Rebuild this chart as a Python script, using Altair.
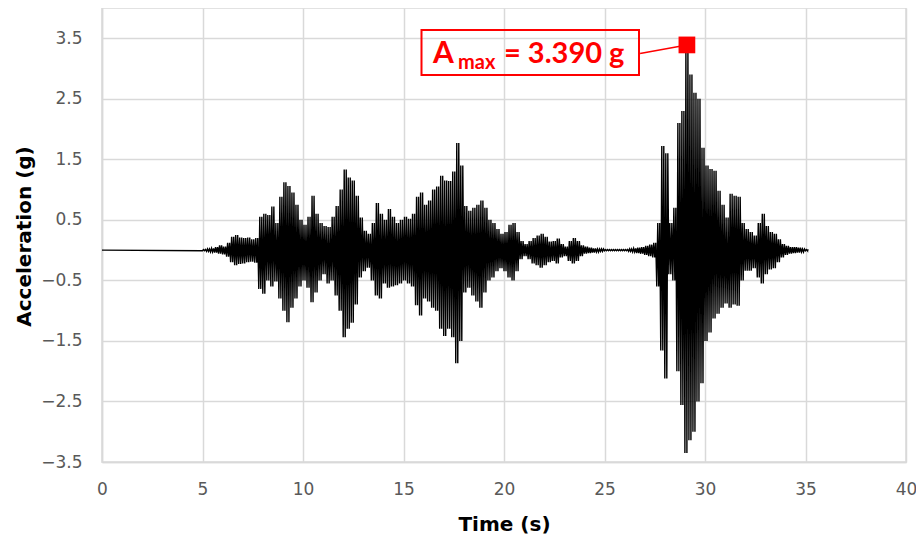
import altair as alt
import numpy as np
import pandas as pd

# Sampling grid (s) of the envelope readings, 0.2 s steps from 5 s to 35 s
t_start, t_step = 5.0, 0.2

# Upper extremes (g) per 0.2 s window
hi = [
    0.01, 0.02, 0.03, 0.05, 0.08,   # 5 s
    0.06, 0.12, 0.22, 0.25, 0.21,   # 6
    0.20, 0.21, 0.18, 0.20, 0.55,   # 7
    0.60, 0.58, 0.72, 0.45, 0.88,   # 8
    1.12, 1.06, 0.95, 0.75, 0.50,   # 9
    0.42, 0.55, 0.90, 0.60, 0.45,   # 10
    0.40, 0.38, 0.55, 0.73, 1.00,   # 11
    1.33, 1.20, 1.15, 0.90, 0.54,   # 12
    0.32, 0.27, 0.45, 0.78, 0.60,   # 13
    0.50, 0.68, 0.55, 0.45, 0.50,   # 14
    0.55, 0.52, 0.60, 0.88, 0.95,   # 15
    0.75, 0.82, 1.00, 1.05, 1.23,   # 16
    1.15, 1.14, 1.30, 1.77, 1.40,   # 17
    0.73, 0.65, 0.70, 0.75, 0.82,   # 18
    0.70, 0.50, 0.45, 0.35, 0.27,   # 19
    0.30, 0.42, 0.45, 0.30, 0.15,   # 20
    0.10, 0.15, 0.20, 0.24, 0.27,   # 21
    0.22, 0.14, 0.15, 0.19, 0.10,   # 22
    0.06, 0.15, 0.20, 0.15, 0.08,   # 23
    0.06, 0.04, 0.03, 0.02, 0.02,   # 24
    0.01, 0.01, 0.01, 0.01, 0.01,   # 25
    0.01, 0.02, 0.03, 0.04, 0.05,   # 26
    0.07, 0.09, 0.12, 0.45, 1.72,   # 27
    1.60, 0.45, 0.70, 2.10, 2.30,   # 28
    3.39, 2.90, 2.60, 2.50, 1.69,   # 29
    1.40, 1.34, 1.31, 0.98, 0.75,   # 30
    0.54, 0.93, 0.90, 0.88, 0.45,   # 31
    0.35, 0.30, 0.24, 0.45, 0.60,   # 32
    0.40, 0.30, 0.27, 0.18, 0.10,   # 33
    0.07, 0.05, 0.05, 0.04, 0.02,   # 34
    0.01,                           # 35
]

# Lower extremes (g) per 0.2 s window
lo = [
    -0.01, -0.02, -0.03, -0.04, -0.06,
    -0.07, -0.11, -0.20, -0.25, -0.23,
    -0.22, -0.20, -0.19, -0.21, -0.64,
    -0.72, -0.50, -0.60, -0.52, -0.80,
    -1.00, -1.19, -0.95, -0.80, -0.60,
    -0.50, -0.62, -0.86, -0.70, -0.50,
    -0.40, -0.55, -0.50, -0.75, -1.00,
    -1.44, -1.30, -1.20, -0.90, -0.45,
    -0.35, -0.29, -0.50, -0.75, -0.80,
    -0.55, -0.62, -0.60, -0.58, -0.55,
    -0.50, -0.55, -0.60, -0.91, -1.08,
    -0.80, -0.85, -0.95, -1.00, -1.30,
    -1.42, -1.30, -1.44, -1.87, -1.50,
    -0.70, -0.62, -0.75, -0.85, -0.95,
    -0.70, -0.50, -0.45, -0.35, -0.30,
    -0.35, -0.45, -0.50, -0.35, -0.15,
    -0.10, -0.15, -0.22, -0.25, -0.29,
    -0.25, -0.20, -0.18, -0.22, -0.12,
    -0.10, -0.18, -0.22, -0.18, -0.10,
    -0.06, -0.05, -0.04, -0.03, -0.02,
    -0.01, -0.01, -0.01, -0.01, -0.01,
    -0.01, -0.02, -0.03, -0.05, -0.06,
    -0.08, -0.10, -0.12, -0.60, -1.66,
    -2.12, -0.40, -0.50, -2.00, -2.56,
    -3.35, -3.14, -3.00, -2.50, -2.20,
    -1.50, -1.36, -1.13, -1.05, -0.95,
    -0.88, -0.95, -0.90, -0.92, -0.50,
    -0.34, -0.34, -0.30, -0.45, -0.55,
    -0.40, -0.32, -0.30, -0.20, -0.12,
    -0.08, -0.06, -0.05, -0.04, -0.03,
    -0.01,
]

x_ticks = [0, 5, 10, 15, 20, 25, 30, 35, 40]
y_ticks = [-3.5, -2.5, -1.5, -0.5, 0.5, 1.5, 2.5, 3.5]

# Build the record: quiet start, then two low/high swings within each window
rows = [(0.0, 0.0)]
q = t_step / 4
for i, (h, l) in enumerate(zip(hi, lo)):
    t = t_start + i * t_step
    rows.append((round(t, 3), l))
    rows.append((round(t + q, 3), h))
    rows.append((round(t + 2 * q, 3), l))
    rows.append((round(t + 3 * q, 3), h))
rows.append((35.1, 0.0))
df = pd.DataFrame(rows, columns=["t", "a"])

imax = df["a"].idxmax()
peak = pd.DataFrame({"t": [29.1], "a": [df.loc[imax, "a"]]})
conn = pd.DataFrame({"t": [26.77, 29.1], "a": [3.25, df.loc[imax, "a"]]})
one = pd.DataFrame({"d": [0]})

W, H = 804, 454
grid = "#d9d9d9"
lab_font = "DejaVu Sans"
ann_font = "Lato"

xs = alt.X("t:Q", scale=alt.Scale(domain=[0, 40], nice=False),
           axis=alt.Axis(values=x_ticks, title="Time (s)", format="d",
                         grid=True, gridColor=grid, gridWidth=1.5,
                         domainColor=grid, domainWidth=1.5, ticks=False,
                         labelFlush=False,
                         labelPadding=19, labelFontSize=17, labelColor="#595959",
                         labelFont=lab_font, titleFont=lab_font, titleFontSize=20,
                         titleFontWeight="bold", titleColor="black",
                         titleY=62, titleBaseline="middle"))
ys = alt.Y("a:Q", scale=alt.Scale(domain=[-3.5, 4.0], nice=False, zero=False),
           axis=alt.Axis(values=y_ticks, title="Acceleration (g)", format=".1f",
                         grid=True, gridColor=grid, gridWidth=1.5,
                         domainColor=grid, domainWidth=1.5, ticks=False,
                         labelFlush=False,
                         labelPadding=20, labelFontSize=17, labelColor="#595959",
                         labelFont=lab_font, titleFont=lab_font, titleFontSize=20,
                         titleFontWeight="bold", titleColor="black",
                         titleX=-78, titleY=228, titleBaseline="middle"))

line = alt.Chart(df).mark_line(color="black", strokeWidth=1.4).encode(x=xs, y=ys)

connector = alt.Chart(conn).mark_line(color="#ff0000", strokeWidth=1.5).encode(
    x="t:Q", y="a:Q")
marker = alt.Chart(peak).mark_square(color="#ff0000", size=280, opacity=1).encode(
    x="t:Q", y="a:Q")

box = alt.Chart(one).mark_rect(fill="transparent", stroke="#ff0000", strokeWidth=2).encode(
    x=alt.value(319.5), x2=alt.value(537), y=alt.value(22), y2=alt.value(67))
tA = alt.Chart(one).mark_text(text="A", font=ann_font, fontSize=30, fontWeight="bold",
                              color="#ff0000", align="left", baseline="alphabetic").encode(
    x=alt.value(331), y=alt.value(55))
tmax = alt.Chart(one).mark_text(text="max", font=ann_font, fontSize=20, fontWeight="bold",
                                color="#ff0000", align="left", baseline="alphabetic").encode(
    x=alt.value(356), y=alt.value(61))
tval = alt.Chart(one).mark_text(text="= 3.390 g", font=ann_font, fontSize=29, fontWeight="bold",
                                color="#ff0000", align="left", baseline="alphabetic").encode(
    x=alt.value(402), y=alt.value(55))

chart = alt.layer(line, connector, marker, box, tA, tmax, tval).properties(
    width=W, height=H,
    autosize=alt.AutoSizeParams(type="none"),
    padding={"left": 94, "top": 0, "right": 10, "bottom": 75},
).configure_view(stroke=grid, strokeWidth=1.5)

chart.save("out.html", embed_options={"renderer": "svg", "actions": False})
